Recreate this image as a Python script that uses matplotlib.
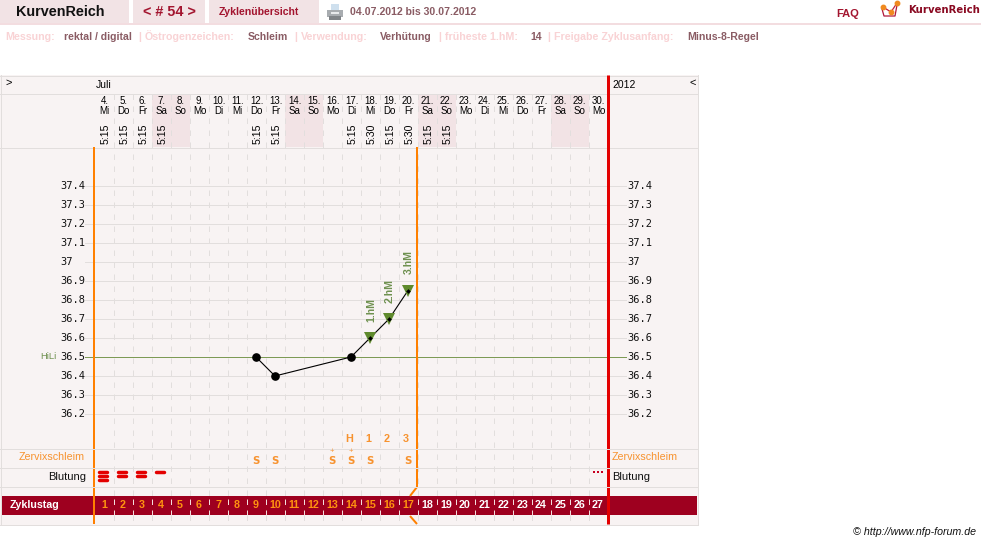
import matplotlib
matplotlib.use("Agg")
import matplotlib.pyplot as plt
from matplotlib.patches import Rectangle, Polygon
from matplotlib.transforms import blended_transform_factory as blend

plt.rcParams['font.family'] = ['Liberation Sans', 'DejaVu Sans']

# ---- data
cycle_days = list(range(1, 28))
dates = [4, 5, 6, 7, 8, 9, 10, 11, 12, 13, 14, 15, 16, 17, 18, 19, 20, 21, 22, 23, 24, 25, 26, 27, 28, 29, 30]
weekdays = ['Mi', 'Do', 'Fr', 'Sa', 'So', 'Mo', 'Di', 'Mi', 'Do', 'Fr', 'Sa', 'So', 'Mo', 'Di', 'Mi', 'Do', 'Fr',
            'Sa', 'So', 'Mo', 'Di', 'Mi', 'Do', 'Fr', 'Sa', 'So', 'Mo']
time_days = [1, 2, 3, 4, 9, 10, 14, 15, 16, 17, 18, 19]
times = ['5:15', '5:15', '5:15', '5:15', '5:15', '5:15', '5:15', '5:30', '5:15', '5:30', '5:15', '5:15']
temp_days = [9, 10, 14, 15, 16, 17]
temps = [36.5, 36.4, 36.5, 36.6, 36.7, 36.85]
high_days = [15, 16, 17]
high_temps = [36.6, 36.7, 36.85]
high_labels = ['1.hM', '2.hM', '3.hM']
temp_ticks = [36.2, 36.3, 36.4, 36.5, 36.6, 36.7, 36.8, 36.9, 37.0, 37.1, 37.2, 37.3, 37.4]
temp_tick_labels = ['36.2', '36.3', '36.4', '36.5', '36.6', '36.7', '36.8', '36.9', '37', '37.1', '37.2', '37.3', '37.4']
hili = 36.5
peak_days = [14, 15, 16, 17]
peak_labels = ['H', '1', '2', '3']
mucus_days = [9, 10, 13, 14, 15, 17]
mucus_plus = [False, False, True, True, False, False]
bleed_days = [1, 2, 3, 4]
bleed_levels = [3, 2, 2, 1]
spotting_days = [27]
weekend_days = [4, 5, 11, 12, 18, 19, 25, 26]
shift_end_day = 17

# ---- colours
BG = '#f8f3f3'; LINE = '#e2dedd'; SHADE = '#f2e3e5'; ORANGE = '#ff8000'; RED = '#e30000'
DARK = '#9e001f'; GREEN = '#5f8a2d'; NAVRED = '#a3152f'; MUTED = '#8a5c64'; PINK = '#f9d3d5'
LORANGE = '#f7922e'; TXTGREEN = '#6f9150'

W, H = 981, 544
DAY0_PX, HILI_PX, DAY_W, DEG_H = 104.0, 357.0, 19.0, 190.0
fig = plt.figure(figsize=(W / 100, H / 100), dpi=100, facecolor='white')
pax = fig.add_axes([0, 0, 1, 1]); pax.set_xlim(0, W); pax.set_ylim(H, 0); pax.axis('off')
dax = fig.add_axes([0, 0, 1, 1], facecolor='none')
dax.set_xlim(1 - DAY0_PX / DAY_W, 1 + (W - DAY0_PX) / DAY_W)
dax.set_ylim(36.5 + (HILI_PX - H) / DEG_H, 36.5 + HILI_PX / DEG_H)
dax.axis('off')
tr = blend(dax.transData, pax.transData)   # x = cycle day, y = pixel row
PX = pax.transData
ONE = 0.72  # one pixel as a line width


def R(x0, y0, x1, y1, c, z=1):
    pax.add_patch(Rectangle((x0, y0), x1 - x0, y1 - y0, fc=c, ec='none', zorder=z))


def T(x, y, s, size=8, c='black', w='normal', ha='left', **k):
    pax.text(x, y, s, fontsize=size, color=c, fontweight=w, ha=ha, va='center', **k)


# ---- page header
for a, b in [(0, 129), (133, 205), (209, 319)]:
    R(a, 0, b, 23, SHADE)
R(0, 23, W, 25, '#f3dde0')
T(16, 12.5, 'KurvenReich', 10.4, '#111111', 'bold')
T(143, 12.5, '< # 54 >', 10.4, NAVRED, 'bold')
T(219, 12, 'Zyklenübersicht', 7.6, NAVRED, 'bold')
T(350, 12, '04.07.2012 bis 30.07.2012', 7.6, MUTED, 'bold')
T(836, 14, 'FAQ', 8, NAVRED, 'bold')
T(908, 10, 'KurvenReich', 7.3, '#8a0a22', 'bold', family='DejaVu Sans')
pax.plot([882, 884, 895, 897], [9, 16, 16, 5], color='#b0183c', lw=0.9, zorder=2)
pax.plot([883, 891, 897], [7, 12, 3], color='#c0203c', lw=0.9, zorder=2)
pax.plot([883, 891, 897], [7, 12, 3], 'o', color='#f08a20', ms=3.2, zorder=3)
# printer icon
R(331, 4, 339, 10, '#cfe0ee', 2)
pax.add_patch(Polygon([[327, 10], [343, 10], [343, 17], [327, 17]], fc='#a8acb0', ec='none', zorder=2))
R(329, 16, 341, 20, '#808488', 2)
R(331, 12, 339, 14, '#e8eaec', 3)

for x, s, c in [(5, 'Messung:', PINK), (64, 'rektal / digital', MUTED), (138, '|', PINK),
                (145, 'Östrogenzeichen:', PINK), (248, 'Schleim', MUTED), (294, '|', PINK),
                (301, 'Verwendung:', PINK), (380, 'Verhütung', MUTED), (438, '|', PINK),
                (445, 'früheste 1.hM:', PINK), (530, '14', MUTED), (547, '|', PINK),
                (554, 'Freigabe Zyklusanfang:', PINK), (687, 'Minus-8-Regel', MUTED)]:
    T(x, 36.5, s, 7.7 if c == PINK else 7.6, c, 'bold')

# ---- table frame
R(0, 75, 698, 525, BG, 0)
R(1, 496, 697, 515, DARK, 1.2)
for y in [75.5, 93.5, 147.5, 524.5]:
    dax.plot([0, 698], [y, y], transform=PX, color=LINE, lw=ONE, zorder=1)
for x in [0.5, 697.5]:
    dax.plot([x, x], [75, 525], transform=PX, color=LINE, lw=ONE, zorder=1)

# weekend shading
for d in weekend_days:
    dax.add_patch(Rectangle((d - 0.5, 94), 1, 53, transform=tr, fc=SHADE, ec='none', zorder=0.5))

# day separators
for d in cycle_days[:-1]:
    dax.plot([d + 0.5, d + 0.5], [94, 496], transform=tr, color=LINE, lw=ONE, dashes=(5.5, 6.5), zorder=0.8)
    dax.plot([d + 0.5, d + 0.5], [515, 524], transform=tr, color=LINE, lw=ONE, dashes=(5.5, 6.5), zorder=0.8)
    dax.plot([d + 0.5, d + 0.5], [499, 515], transform=tr, color='#f3dede', lw=ONE, dashes=(5.5, 5.5), zorder=1.3)

# temperature gridlines and labels
for t, lab in zip(temp_ticks, temp_tick_labels):
    dax.plot([0, 1 + 521.5 / 19], [t, t], color=LINE, lw=ONE, zorder=1)
    y = HILI_PX + (36.5 - t) * DEG_H
    T(60, y, lab, 7.5, '#111111', family='DejaVu Sans Mono')
    T(627, y, lab, 7.5, '#111111', family='DejaVu Sans Mono')
dax.plot([0, 1 + 521.5 / 19], [hili, hili], color='#7d9a55', lw=ONE, zorder=1.1)
T(40, 356.5, 'HiLi', 6.8, TXTGREEN)

# vertical cycle lines
dax.plot([94, 94], [147, 524], transform=PX, color=ORANGE, lw=2 * ONE, solid_capstyle='butt', zorder=2)
dax.plot([417, 417, 410], [147, 487, 496], transform=PX, color=ORANGE, lw=2 * ONE, solid_capstyle='butt', zorder=2)
dax.plot([410, 417], [516, 524], transform=PX, color=ORANGE, lw=2 * ONE, solid_capstyle='butt', zorder=2)
dax.plot([607.5, 607.5], [75, 524], transform=PX, color=RED, lw=3 * ONE, solid_capstyle='butt', zorder=2)

# lower row separators lie over the vertical lines
for y in [448.5, 467.5, 486.5]:
    dax.plot([0, 698], [y, y], transform=PX, color=LINE, lw=ONE, zorder=2.5)

# ---- header texts
T(5, 83, '>', 8); T(690, 83, '<', 8)
T(96, 85, 'Juli', 7.5); T(612, 85, '2012', 7.5)
for d, dt, wd in zip(cycle_days, dates, weekdays):
    dax.text(d + 0.03, 101, f'{dt}.', transform=tr, fontsize=7, ha='center', va='center')
    dax.text(d + 0.03, 111, wd, transform=tr, fontsize=7, ha='center', va='center')
for d, s in zip(time_days, times):
    dax.text(d + 0.08, 134, s, transform=tr, fontsize=7.6, rotation=90, ha='center', va='center')

# ---- temperature curve
dax.plot(temp_days, temps, color='black', lw=0.8, zorder=4)
dax.plot(temp_days[:3], temps[:3], 'o', color='black', ms=5.2, zorder=5)
dax.plot(high_days, high_temps, 'v', color=GREEN, ms=8.5, mew=0, zorder=4.5)
dax.plot(high_days, high_temps, 'D', color='black', ms=2.4, mew=0, zorder=5)
for d, t, s in zip(high_days, high_temps, high_labels):
    dax.annotate(s, (d, t), xytext=(0.8, 20.5), textcoords='offset points', rotation=90, ha='center', va='center',
                 fontsize=7.6, fontweight='bold', color=TXTGREEN, zorder=5)

# ---- rows beneath the curve
for d, s in zip(peak_days, peak_labels):
    dax.text(d - 0.1, 439, s, transform=tr, fontsize=7.8, fontweight='bold', color=LORANGE, ha='center', va='center')
for d, plus in zip(mucus_days, mucus_plus):
    dax.text(d, 460.5, 'S', transform=tr, fontsize=7.4, fontweight='bold', color=LORANGE, ha='center', va='center',
             family='DejaVu Sans')
    if plus:
        dax.text(d, 452, '+', transform=tr, fontsize=5.5, color=LORANGE, ha='center', va='center')
T(85, 457.5, 'Zervixschleim', 7.7, LORANGE, ha='right')
T(612, 457.5, 'Zervixschleim', 7.7, LORANGE)
T(86, 477, 'Blutung', 8, '#111111', ha='right')
T(612, 477, 'Blutung', 8, '#111111')
for d, n in zip(bleed_days, bleed_levels):
    for k in range(n):
        y = 472 + k * 4.2
        dax.plot([d - 0.24, d + 0.17], [y, y], transform=tr, color=RED, lw=2.5, solid_capstyle='round', zorder=3)
for d in spotting_days:
    dax.plot([d - 0.2, d, d + 0.2], [472, 472, 472], 's', transform=tr, color='#c80020', ms=1.7, mew=0, zorder=3)

T(10, 505, 'Zyklustag', 7.7, 'white', 'bold', zorder=3)
for d in cycle_days:
    c = '#ff9410' if d <= shift_end_day else 'white'
    dax.text(d, 505, str(d), transform=tr, fontsize=7.7, fontweight='bold', color=c, ha='center', va='center', zorder=3)

T(976, 532, '© http://www.nfp-forum.de', 7.7, '#111111', ha='right', style='italic')

fig.savefig('out.png', dpi=100, facecolor='white')
